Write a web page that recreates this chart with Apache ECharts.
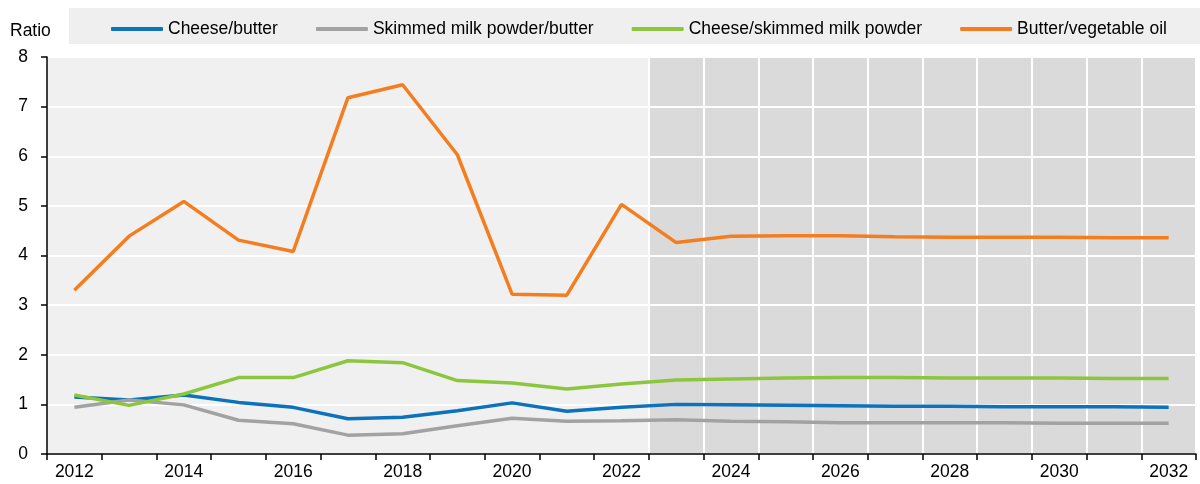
<!DOCTYPE html>
<html>
<head>
<meta charset="utf-8">
<script src="https://cdn.jsdelivr.net/npm/echarts@6/dist/echarts.min.js"></script>
<style>
  html, body { margin: 0; padding: 0; background: #fff; }
  #chart { width: 1200px; height: 484px; }
</style>
</head>
<body>
<div id="chart"></div>
<script>
var years = ['2012', '2013', '2014', '2015', '2016', '2017', '2018', '2019', '2020', '2021', '2022',
  '2023', '2024', '2025', '2026', '2027', '2028', '2029', '2030', '2031', '2032'];
var firstProjection = '2023';

var cheeseButter = [1.15, 1.09, 1.19, 1.04, 0.94, 0.71, 0.74, 0.87, 1.03, 0.86, 0.94,
  1.00, 0.99, 0.98, 0.97, 0.96, 0.96, 0.95, 0.95, 0.95, 0.94];
var smpButter = [0.94, 1.09, 0.99, 0.68, 0.61, 0.38, 0.41, 0.57, 0.72, 0.66, 0.67,
  0.69, 0.66, 0.65, 0.63, 0.63, 0.63, 0.63, 0.62, 0.62, 0.62];
var cheeseSmp = [1.19, 0.98, 1.21, 1.54, 1.54, 1.88, 1.84, 1.48, 1.43, 1.31, 1.41,
  1.49, 1.51, 1.53, 1.54, 1.54, 1.53, 1.53, 1.53, 1.52, 1.52];
var butterVegOil = [3.30, 4.39, 5.09, 4.31, 4.08, 7.18, 7.44, 6.03, 3.22, 3.20, 5.03,
  4.26, 4.39, 4.40, 4.40, 4.38, 4.37, 4.37, 4.37, 4.36, 4.36];

var yMax = 8;
var font = 'Liberation Sans, Arial, sans-serif';
var fs = 17.5;

// shaded projection period, one full-width bar per projected year
var projIndex = years.indexOf(firstProjection);
var projBand = years.map(function (y, i) { return i >= projIndex ? yMax : null; });

function lineSeries(name, data, color) {
  return {
    name: name,
    type: 'line',
    data: data,
    symbol: 'none',
    z: 3,
    lineStyle: { color: color, width: 3.5 },
    itemStyle: { color: color }
  };
}

var chart = echarts.init(document.getElementById('chart'));
var option = {
  animation: false,
  textStyle: { fontFamily: font },
  graphic: [
    {
      type: 'rect',
      left: 69, top: 8,
      shape: { width: 1131, height: 36 },
      style: { fill: '#efefef' },
      z: -1
    },
    {
      type: 'text',
      left: 10, top: 22,
      style: { text: 'Ratio', fontSize: fs, fontFamily: font, fill: '#000' }
    }
  ],
  legend: {
    left: 111,
    top: 20,
    padding: 0,
    itemWidth: 52,
    itemHeight: 4,
    itemGap: 38,
    icon: 'roundRect',
    textStyle: { fontSize: fs, color: '#000', fontFamily: font },
    data: ['Cheese/butter', 'Skimmed milk powder/butter', 'Cheese/skimmed milk powder', 'Butter/vegetable oil']
  },
  grid: {
    left: 47, right: 4, top: 57, bottom: 30,
    show: true,
    backgroundColor: '#f0f0f0',
    borderWidth: 0
  },
  xAxis: {
    type: 'category',
    data: years,
    boundaryGap: true,
    z: 2,
    axisLine: { lineStyle: { color: '#000', width: 1.5 } },
    axisTick: { show: true, interval: 0, length: 6, lineStyle: { color: '#000', width: 1.5 } },
    axisLabel: { interval: 1, fontSize: fs, color: '#000', margin: 9 },
    splitLine: {
      show: true,
      interval: function (i) { return i >= projIndex; },
      lineStyle: { color: '#fff', width: 2 }
    }
  },
  yAxis: {
    type: 'value',
    min: 0, max: yMax, interval: 1,
    z: 2,
    axisLine: { show: true, lineStyle: { color: '#000', width: 1.5 } },
    axisTick: { show: true, length: 6, lineStyle: { color: '#000', width: 1.5 } },
    axisLabel: { fontSize: fs, color: '#000', margin: 19 },
    splitLine: { show: true, lineStyle: { color: '#fff', width: 2 } }
  },
  series: [
    {
      name: 'projection',
      type: 'bar',
      data: projBand,
      barWidth: '100%',
      silent: true,
      z: 1,
      itemStyle: { color: '#dadada' }
    },
    lineSeries('Cheese/butter', cheeseButter, '#0b72bb'),
    lineSeries('Skimmed milk powder/butter', smpButter, '#a2a2a2'),
    lineSeries('Cheese/skimmed milk powder', cheeseSmp, '#8cc63f'),
    lineSeries('Butter/vegetable oil', butterVegOil, '#f47d20')
  ]
};
chart.setOption(option);
</script>
</body>
</html>
